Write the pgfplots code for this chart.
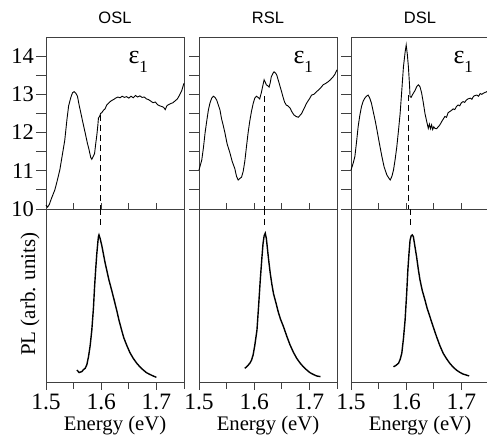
\documentclass[border=0pt]{standalone}
\usepackage{pgfplots}
\pgfplotsset{compat=1.18}
\usepackage{fontspec}
\setmainfont{Liberation Serif}
\newfontfamily\sansf{Liberation Sans}
\newcommand{\xtlfont}{\fontsize{23.5}{26}\selectfont}
\newcommand{\ytlfont}{\fontsize{22.5}{26}\selectfont}
\newcommand{\labfont}{\fontsize{20.7}{24}\selectfont}
\newcommand{\plfont}{\fontsize{21}{24}\selectfont}
\newcommand{\titfont}{\sansf\fontsize{16.5}{18}\selectfont}
\newcommand{\epslabel}{{\fontsize{26}{26}\selectfont ε}\raisebox{-8.5pt}{\fontsize{17}{17}\selectfont 1}}

\pgfplotstableread{
x y
1.500 10.10
1.503 10.05
1.506 10.12
1.510 10.28
1.516 10.50
1.520 10.72
1.525 11.02
1.530 11.45
1.534 11.80
1.538 12.35
1.541 12.70
1.545 12.92
1.548 13.04
1.551 13.07
1.554 13.03
1.557 12.95
1.560 12.72
1.563 12.52
1.567 12.25
1.571 11.99
1.575 11.72
1.578 11.55
1.581 11.35
1.583 11.30
1.585 11.36
1.588 11.45
1.590 11.70
1.592 11.92
1.594 12.20
1.595 12.38
1.597 12.42
1.599 12.50
1.601 12.52
1.604 12.58
1.607 12.62
1.610 12.72
1.614 12.78
1.618 12.83
1.622 12.86
1.626 12.90
1.630 12.93
1.634 12.91
1.638 12.95
1.642 12.92
1.646 12.94
1.650 12.90
1.654 12.95
1.658 12.91
1.662 12.97
1.666 12.93
1.670 12.96
1.674 12.92
1.678 12.93
1.682 12.88
1.686 12.86
1.690 12.82
1.694 12.78
1.698 12.80
1.702 12.73
1.706 12.70
1.710 12.68
1.713 12.66
1.716 12.60
1.719 12.70
1.722 12.73
1.726 12.76
1.730 12.78
1.734 12.83
1.738 12.88
1.742 12.98
1.746 13.10
1.748 13.20
1.750 13.29
}\osleps

\pgfplotstableread{
x y
1.500 11.02
1.505 11.28
1.508 11.60
1.511 11.99
1.514 12.30
1.517 12.59
1.520 12.78
1.523 12.90
1.526 12.95
1.529 12.92
1.532 12.85
1.535 12.72
1.538 12.59
1.541 12.35
1.544 12.18
1.547 11.99
1.551 11.70
1.556 11.47
1.560 11.25
1.565 11.05
1.568 10.85
1.571 10.76
1.574 10.80
1.577 10.83
1.580 10.98
1.583 11.25
1.586 11.63
1.589 12.00
1.592 12.30
1.595 12.55
1.598 12.75
1.601 12.90
1.604 12.95
1.607 12.92
1.610 12.88
1.613 13.05
1.616 13.25
1.618 13.38
1.620 13.32
1.622 13.25
1.625 13.22
1.627 13.19
1.629 13.30
1.631 13.46
1.634 13.55
1.636 13.59
1.639 13.55
1.641 13.50
1.644 13.35
1.647 13.20
1.650 13.05
1.652 12.94
1.655 12.80
1.658 12.72
1.661 12.70
1.665 12.64
1.668 12.55
1.672 12.46
1.676 12.42
1.680 12.40
1.683 12.45
1.686 12.50
1.690 12.62
1.695 12.77
1.700 12.88
1.704 12.98
1.708 13.00
1.713 13.07
1.717 13.12
1.721 13.18
1.725 13.25
1.729 13.28
1.734 13.33
1.738 13.38
1.743 13.46
1.746 13.52
1.750 13.64
}\rsleps

\pgfplotstableread{
x y
1.500 11.02
1.504 11.20
1.507 11.37
1.510 11.75
1.513 12.16
1.516 12.45
1.519 12.68
1.522 12.82
1.525 12.90
1.528 12.95
1.531 12.98
1.534 12.90
1.537 12.77
1.541 12.50
1.544 12.30
1.547 12.07
1.551 11.75
1.556 11.37
1.560 11.10
1.565 10.89
1.568 10.82
1.571 10.76
1.574 10.85
1.577 11.02
1.580 11.30
1.583 11.63
1.586 12.05
1.589 12.50
1.592 13.10
1.595 13.72
1.598 14.10
1.600 14.29
1.602 14.05
1.604 13.72
1.606 13.25
1.607 12.94
1.609 12.92
1.611 12.98
1.613 13.03
1.616 13.10
1.619 13.20
1.622 13.25
1.625 13.20
1.628 13.03
1.631 12.78
1.634 12.50
1.637 12.30
1.640 12.11
1.642 12.22
1.644 12.10
1.646 12.20
1.648 12.08
1.650 12.15
1.652 12.11
1.655 12.10
1.658 12.15
1.661 12.20
1.664 12.28
1.667 12.35
1.670 12.42
1.673 12.40
1.676 12.52
1.679 12.55
1.682 12.58
1.685 12.62
1.688 12.60
1.691 12.68
1.694 12.72
1.697 12.70
1.700 12.78
1.703 12.81
1.706 12.79
1.709 12.85
1.712 12.88
1.716 12.90
1.719 12.87
1.722 12.95
1.725 12.97
1.728 12.98
1.731 12.95
1.734 13.02
1.737 13.00
1.740 13.03
1.743 13.05
1.746 13.07
1.750 13.03
}\dsleps

\pgfplotstableread{
x y
1.556 0.069
1.560 0.055
1.565 0.060
1.568 0.072
1.571 0.079
1.574 0.100
1.577 0.146
1.580 0.210
1.583 0.300
1.586 0.430
1.588 0.550
1.590 0.650
1.592 0.740
1.594 0.810
1.595 0.840
1.596 0.850
1.598 0.830
1.601 0.790
1.604 0.740
1.607 0.690
1.610 0.647
1.614 0.590
1.619 0.530
1.623 0.480
1.628 0.416
1.632 0.360
1.637 0.300
1.641 0.255
1.646 0.214
1.652 0.170
1.658 0.137
1.664 0.110
1.670 0.088
1.676 0.070
1.682 0.054
1.688 0.044
1.694 0.035
1.700 0.027
}\oslpl

\pgfplotstableread{
x y
1.583 0.079
1.587 0.090
1.592 0.108
1.595 0.125
1.598 0.156
1.601 0.210
1.605 0.300
1.608 0.440
1.611 0.590
1.614 0.720
1.616 0.800
1.618 0.845
1.620 0.860
1.622 0.830
1.623 0.800
1.626 0.710
1.629 0.630
1.632 0.565
1.635 0.510
1.640 0.450
1.644 0.400
1.648 0.360
1.653 0.320
1.659 0.265
1.665 0.214
1.671 0.172
1.677 0.137
1.683 0.110
1.689 0.088
1.695 0.070
1.701 0.054
1.707 0.044
1.713 0.035
1.720 0.031
}\rslpl

\pgfplotstableread{
x y
1.577 0.088
1.581 0.095
1.586 0.108
1.589 0.130
1.592 0.166
1.595 0.250
1.598 0.358
1.601 0.520
1.603 0.647
1.605 0.740
1.607 0.820
1.609 0.845
1.611 0.850
1.613 0.840
1.614 0.820
1.616 0.780
1.619 0.720
1.622 0.650
1.625 0.590
1.629 0.530
1.634 0.474
1.638 0.425
1.643 0.377
1.649 0.318
1.655 0.262
1.661 0.210
1.667 0.166
1.673 0.135
1.679 0.108
1.685 0.086
1.691 0.069
1.697 0.056
1.703 0.046
1.709 0.040
1.714 0.035
}\dslpl

\pgfplotsset{
  common/.style={
    scale only axis, width=138pt,
    xmin=1.5, xmax=1.75,
    axis line style={black!75, line width=0.8pt},
    every tick/.style={black!75, line width=0.8pt},
    /pgf/number format/assume math mode=true,
    clip=false,
  },
  upper/.style={
    common, height=172pt,
    ymin=10, ymax=14.5,
    ytick={10,11,12,13,14},
    minor ytick={10.5,11.5,12.5,13.5},
    xtick={1.55,1.6,1.65,1.7},
    xticklabels={},
    xtick pos=bottom, ytick pos=left,
    xtick align=inside, ytick align=outside,
    major tick length=10pt, minor tick length=10pt,
    x tick style={/pgfplots/major tick length=6pt},
    yticklabel style={font=\ytlfont, inner sep=2pt},
    anchor=south west,
  },
  lower/.style={
    common, height=173pt,
    ymin=0, ymax=1,
    ytick=\empty,
    xtick={1.5,1.6,1.7},
    minor xtick={1.55,1.65,1.75},
    xtick pos=bottom, tick align=outside,
    major tick length=8pt, minor tick length=7pt,
    xticklabel style={font=\xtlfont},
    anchor=south west,
  },
  curve/.style={black, line width=0.9pt},
  plcurve/.style={black, line width=1.4pt},
  dsh/.style={black, line width=1.1pt, dash pattern=on 6pt off 4pt},
}

\begin{document}
\begin{tikzpicture}
% ---------- OSL ----------
\begin{axis}[upper, at={(0pt,173pt)}]
  \addplot[curve] table[x=x,y=y] {\osleps};
  \addplot[dsh] coordinates {(1.598,12.45) (1.598,10)};
\end{axis}
\begin{axis}[lower, at={(0pt,0pt)}]
  \addplot[plcurve] table[x=x,y=y] {\oslpl};
  \addplot[dsh] coordinates {(1.598,1) (1.598,0.89)};
\end{axis}
% ---------- RSL ----------
\begin{axis}[upper, at={(153pt,173pt)}, yticklabels={}]
  \addplot[curve] table[x=x,y=y] {\rsleps};
  \addplot[dsh] coordinates {(1.618,12.95) (1.618,10)};
\end{axis}
\begin{axis}[lower, at={(153pt,0pt)}]
  \addplot[plcurve] table[x=x,y=y] {\rslpl};
  \addplot[dsh] coordinates {(1.618,1) (1.618,0.90)};
\end{axis}
% ---------- DSL ----------
\begin{axis}[upper, at={(305pt,173pt)}, yticklabels={}]
  \addplot[curve] table[x=x,y=y] {\dsleps};
  \addplot[dsh] coordinates {(1.604,12.98) (1.604,10)};
\end{axis}
\begin{axis}[lower, at={(305pt,0pt)}]
  \addplot[plcurve] table[x=x,y=y] {\dslpl};
  \addplot[dsh] coordinates {(1.608,1) (1.608,0.90)};
\end{axis}
% ---------- text ----------
\foreach \px/\t in {69/OSL, 222/RSL, 374/DSL}
  \node[anchor=base, inner sep=0pt] at (\px pt,358pt) {\titfont \t};
\foreach \px in {69, 222, 374}
  \node[anchor=base, inner sep=0pt] at (\px pt,-49pt) {\labfont Energy (eV)};
\foreach \px in {82.3, 247.3, 407.3}
  \node[anchor=base west, inner sep=0pt] at (\px pt,318pt) {\epslabel};
\node[rotate=90, inner sep=0pt] at (-16pt,88pt) {\plfont PL (arb. units)};
\pgfresetboundingbox
\path (-46pt,-56pt) rectangle (441pt,382pt);
\end{tikzpicture}
\end{document}
